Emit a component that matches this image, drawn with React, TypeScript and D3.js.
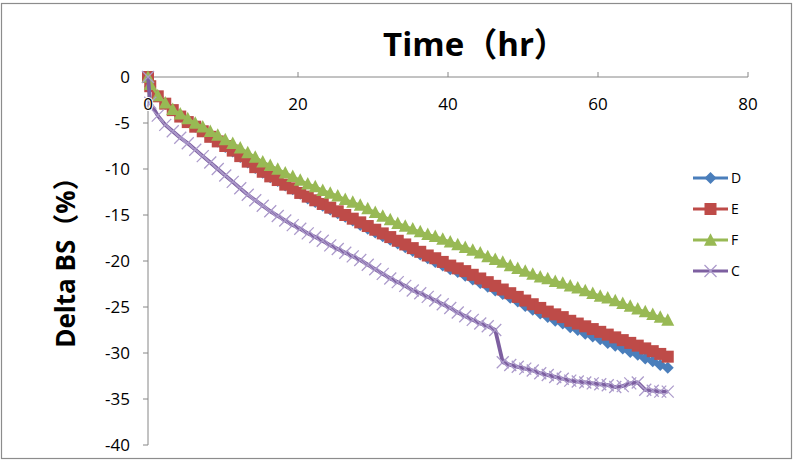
import React from "react";
import * as d3 from "d3";

const times = [0, 0.3, 1.3, 2.3, 3.3, 4.3, 5.3, 6.3, 7.3, 8.3, 9.3, 10.3, 11.3, 12.3, 13.3, 14.3, 15.3, 16.3, 17.3, 18.3, 19.3, 20.3, 21.3, 22.3, 23.3, 24.3, 25.3, 26.3, 27.3, 28.3, 29.3, 30.3, 31.3, 32.3, 33.3, 34.3, 35.3, 36.3, 37.3, 38.3, 39.3, 40.3, 41.3, 42.3, 43.3, 44.3, 45.3, 46.3, 47.3, 48.3, 49.3, 50.3, 51.3, 52.3, 53.3, 54.3, 55.3, 56.3, 57.3, 58.3, 59.3, 60.3, 61.3, 62.3, 63.3, 64.3, 65.3, 66.3, 67.3, 68.3, 69.3];

const seriesD = [0, -1.0, -2.1, -2.9, -3.6, -4.3, -4.9, -5.4, -5.9, -6.5, -7.0, -7.6, -8.1, -8.7, -9.3, -9.9, -10.4, -10.9, -11.3, -11.8, -12.2, -12.7, -13.2, -13.6, -14.0, -14.4, -14.8, -15.2, -15.6, -16.1, -16.5, -16.9, -17.3, -17.7, -18.1, -18.5, -18.9, -19.3, -19.7, -20.1, -20.5, -20.9, -21.2, -21.6, -22.0, -22.4, -22.8, -23.2, -23.6, -24.0, -24.4, -24.9, -25.3, -25.7, -26.1, -26.5, -26.8, -27.2, -27.5, -27.9, -28.2, -28.5, -28.9, -29.2, -29.5, -29.9, -30.2, -30.6, -30.9, -31.3, -31.6];

const seriesE = [0, -1.0, -2.1, -2.9, -3.6, -4.3, -4.9, -5.4, -5.9, -6.5, -7.0, -7.5, -8.0, -8.6, -9.2, -9.8, -10.3, -10.8, -11.2, -11.7, -12.1, -12.6, -13.0, -13.4, -13.8, -14.2, -14.6, -15.0, -15.4, -15.8, -16.2, -16.6, -17.0, -17.4, -17.8, -18.2, -18.6, -19.0, -19.4, -19.7, -20.1, -20.5, -20.8, -21.1, -21.5, -21.9, -22.3, -22.7, -23.1, -23.5, -23.9, -24.3, -24.7, -25.1, -25.5, -25.8, -26.1, -26.5, -26.8, -27.1, -27.4, -27.7, -28.0, -28.3, -28.6, -28.9, -29.2, -29.5, -29.8, -30.1, -30.4];

const seriesF = [0, -0.8, -2.0, -2.8, -3.5, -4.0, -4.5, -5.0, -5.4, -5.9, -6.3, -6.8, -7.2, -7.7, -8.2, -8.7, -9.2, -9.6, -10.0, -10.4, -10.8, -11.2, -11.6, -11.9, -12.3, -12.6, -12.9, -13.3, -13.6, -13.9, -14.3, -14.7, -15.1, -15.5, -15.9, -16.2, -16.5, -16.8, -17.1, -17.3, -17.6, -17.9, -18.2, -18.5, -18.8, -19.1, -19.5, -19.8, -20.1, -20.5, -20.8, -21.1, -21.4, -21.7, -21.9, -22.2, -22.4, -22.7, -22.9, -23.2, -23.5, -23.8, -24.0, -24.3, -24.6, -24.9, -25.2, -25.5, -25.8, -26.1, -26.4];

const seriesC = [0, -2.8, -4.2, -5.2, -5.9, -6.6, -7.2, -7.9, -8.6, -9.3, -10.0, -10.7, -11.4, -12.1, -12.8, -13.4, -14.0, -14.6, -15.1, -15.6, -16.1, -16.5, -17.0, -17.4, -17.8, -18.3, -18.7, -19.1, -19.5, -19.9, -20.4, -20.9, -21.4, -21.9, -22.3, -22.7, -23.2, -23.5, -23.9, -24.3, -24.7, -25.1, -25.6, -26.0, -26.4, -26.8, -27.1, -27.5, -31.0, -31.3, -31.5, -31.7, -31.9, -32.2, -32.4, -32.6, -32.8, -33.0, -33.1, -33.2, -33.3, -33.4, -33.5, -33.7, -33.6, -33.3, -33.2, -34.0, -34.1, -34.2, -34.2];

const seriesNames = ["D", "E", "F", "C"];
const xTicks = [0, 20, 40, 60, 80];
const yTicks = [0, -5, -10, -15, -20, -25, -30, -35, -40];

const xTitle = "Time（hr）";
const yTitle = "Delta BS（%）";

const colors: Record<string, string> = {
  D: "#4A7EBB",
  E: "#BE4B48",
  F: "#98B954",
  C: "#7D5FA0",
};

const FONT = "'Open Sans', 'Noto Sans CJK SC', sans-serif";

function Marker({ type, x, y }: { type: string; x: number; y: number }) {
  if (type === "D") {
    const r = 6;
    return (
      <path
        d={`M${x},${y - r}L${x + r},${y}L${x},${y + r}L${x - r},${y}Z`}
        fill={colors.D}
      />
    );
  }
  if (type === "E") {
    const s = 12;
    return <rect x={x - s / 2} y={y - s / 2} width={s} height={s} fill={colors.E} />;
  }
  if (type === "F") {
    const w = 13;
    const h = 11.5;
    return (
      <path
        d={`M${x},${y - h / 2 - 1}L${x + w / 2},${y + h / 2}L${x - w / 2},${y + h / 2}Z`}
        fill={colors.F}
      />
    );
  }
  const r = 6;
  return (
    <path
      d={`M${x - r},${y - r}L${x + r},${y + r}M${x - r},${y + r}L${x + r},${y - r}`}
      stroke="#AC9BCB"
      strokeWidth={1.3}
      fill="none"
    />
  );
}

export default function App() {
  const x = d3.scaleLinear().domain([0, 80]).range([148, 748]);
  const y = d3.scaleLinear().domain([-40, 0]).range([445, 77]);

  const dataMap: Record<string, number[]> = {
    D: seriesD,
    E: seriesE,
    F: seriesF,
    C: seriesC,
  };

  const line = d3
    .line<number>()
    .x((_, i) => x(times[i]))
    .y((d) => y(d));

  const legendY = [178, 209, 240, 271];

  return (
    <svg
      width={800}
      height={465}
      style={{ position: "absolute", left: 0, top: 0, background: "#fff" }}
    >
      <rect x={0} y={0} width={800} height={465} fill="#fff" />
      <rect x={1.5} y={3.5} width={790} height={455} fill="none" stroke="#8C8C8C" strokeWidth={1.2} />

      {/* axes */}
      <line x1={148} x2={148} y1={y(0)} y2={y(-40)} stroke="#868686" strokeWidth={1} />
      <line x1={x(0)} x2={x(80)} y1={y(0)} y2={y(0)} stroke="#868686" strokeWidth={1} />
      {yTicks.map((t) => (
        <line key={"yt" + t} x1={143} x2={148} y1={y(t)} y2={y(t)} stroke="#868686" />
      ))}
      {xTicks.map((t) => (
        <line key={"xt" + t} x1={x(t)} x2={x(t)} y1={y(0) - 5} y2={y(0)} stroke="#868686" />
      ))}

      {/* series */}
      {seriesNames.map((name) => {
        const vals = dataMap[name];
        return (
          <g key={name}>
            <path
              d={line(vals) || ""}
              fill="none"
              stroke={colors[name]}
              strokeWidth={name === "C" ? 3.8 : 2.5}
              strokeLinejoin="round"
            />
            {vals.map((v, i) => (
              <Marker key={i} type={name} x={x(times[i])} y={y(v)} />
            ))}
          </g>
        );
      })}

      {/* tick labels */}
      {yTicks.map((t) => (
        <text
          key={"yl" + t}
          x={130}
          y={y(t)}
          dy="0.36em"
          textAnchor="end"
          fontFamily={FONT}
          fontSize={17}
          fill="#000"
        >
          {t}
        </text>
      ))}
      {xTicks.map((t) => (
        <text
          key={"xl" + t}
          x={x(t)}
          y={104}
          dy="0.36em"
          textAnchor="middle"
          fontFamily={FONT}
          fontSize={17}
          fill="#000"
          stroke={t === 0 ? "#fff" : "none"}
          strokeWidth={t === 0 ? 2 : 0}
          paintOrder="stroke"
        >
          {t}
        </text>
      ))}

      {/* titles */}
      <text
        x={475}
        y={56}
        textAnchor="middle"
        fontFamily={FONT}
        fontWeight="bold"
        fontSize={33}
        fill="#000"
      >
        {xTitle}
      </text>
      <text
        transform="translate(75,256) rotate(-90)"
        textAnchor="middle"
        fontFamily={FONT}
        fontWeight="bold"
        fontSize={26}
        fill="#000"
      >
        {yTitle}
      </text>

      {/* legend */}
      {seriesNames.map((name, i) => (
        <g key={"lg" + name}>
          <line
            x1={693}
            x2={728}
            y1={legendY[i]}
            y2={legendY[i]}
            stroke={colors[name]}
            strokeWidth={3}
          />
          <Marker type={name} x={710.5} y={legendY[i]} />
          <text
            x={731}
            y={legendY[i]}
            dy="0.35em"
            fontFamily={FONT}
            fontSize={14}
            fill="#000"
          >
            {name}
          </text>
        </g>
      ))}
    </svg>
  );
}
